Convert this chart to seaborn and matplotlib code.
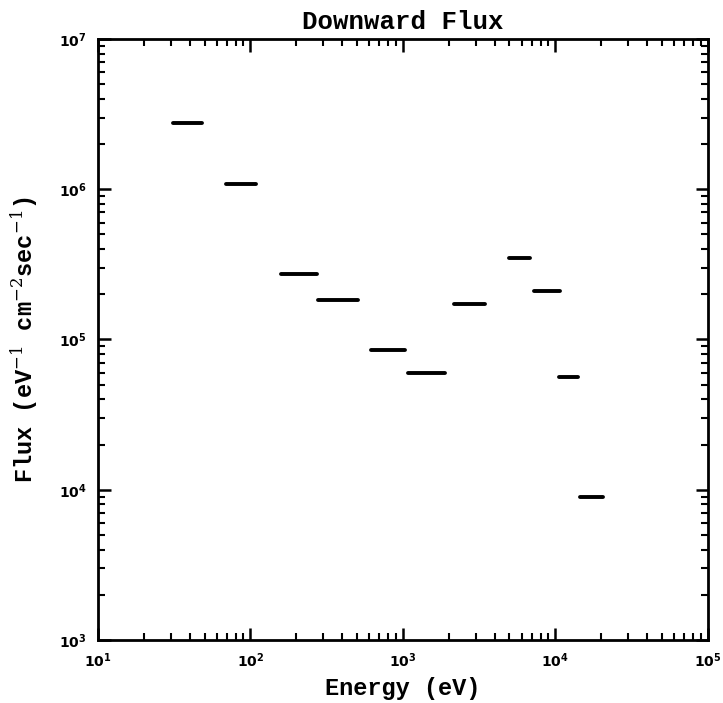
import numpy as np
import pandas as pd
import matplotlib
matplotlib.use("Agg")
import matplotlib.pyplot as plt
import seaborn as sns
from matplotlib.ticker import LogLocator, LogFormatterMathtext, NullFormatter

# Energy bins (eV) and downward flux values
e_low = [31, 69, 158, 277, 617, 1080, 2160, 4950, 7260, 10600, 14600]
e_high = [48, 108, 273, 507, 1040, 1880, 3480, 6870, 10800, 14100, 20400]
flux = [2.77e6, 1.09e6, 2.73e5, 1.83e5, 8.5e4, 5.96e4, 1.71e5, 3.51e5, 2.1e5, 5.65e4, 9.0e3]

rows = []
for i, (lo, hi, f) in enumerate(zip(e_low, e_high, flux)):
    rows.append({"energy": lo, "flux": f, "seg": i})
    rows.append({"energy": hi, "flux": f, "seg": i})
df = pd.DataFrame(rows)

sns.set_style("ticks")
plt.rcParams.update({
    "mathtext.fontset": "dejavuserif",
    "text.color": "black",
    "axes.labelcolor": "black",
    "xtick.color": "black",
    "ytick.color": "black",
    "axes.edgecolor": "black",
})

fig = plt.figure(figsize=(7.23, 7.03), dpi=100)
ax = fig.add_axes([0.1355, 0.0896, 0.8435, 0.855])
ax.set_xscale("log")
ax.set_yscale("log")

sns.lineplot(data=df, x="energy", y="flux", units="seg", estimator=None,
             color="black", linewidth=2.8, ax=ax, legend=False)

ax.set_xlim(1e1, 1e5)
ax.set_ylim(1e3, 1e7)

for sp in ax.spines.values():
    sp.set_linewidth(2.0)
    sp.set_color("black")
    sp.set_visible(True)

ax.xaxis.set_major_locator(LogLocator(base=10, numticks=10))
ax.yaxis.set_major_locator(LogLocator(base=10, numticks=10))
ax.xaxis.set_minor_locator(LogLocator(base=10, subs=np.arange(2, 10), numticks=20))
ax.yaxis.set_minor_locator(LogLocator(base=10, subs=np.arange(2, 10), numticks=20))
ax.xaxis.set_major_formatter(LogFormatterMathtext())
ax.yaxis.set_major_formatter(LogFormatterMathtext())
ax.xaxis.set_minor_formatter(NullFormatter())
ax.yaxis.set_minor_formatter(NullFormatter())
ax.tick_params(which="both", direction="in", top=True, right=True, color="black")
ax.tick_params(which="major", length=9, width=1.8, labelsize=10, pad=8)
ax.tick_params(which="minor", length=5, width=1.5)
for lab in ax.get_xticklabels() + ax.get_yticklabels():
    lab.set_fontweight("bold")

mono = ["Liberation Mono", "DejaVu Sans Mono"]
ax.set_title("Downward Flux", family=mono, fontweight="bold", fontsize=18.5, pad=7)
ax.set_xlabel("Energy (eV)", family=mono, fontweight="bold", fontsize=17, labelpad=5)
ax.set_ylabel(r"Flux (eV$^{-1}$ cm$^{-2}$sec$^{-1}$)", family=mono, fontweight="bold",
              fontsize=17, labelpad=14)

fig.savefig("out.png", dpi=100, facecolor="white")
